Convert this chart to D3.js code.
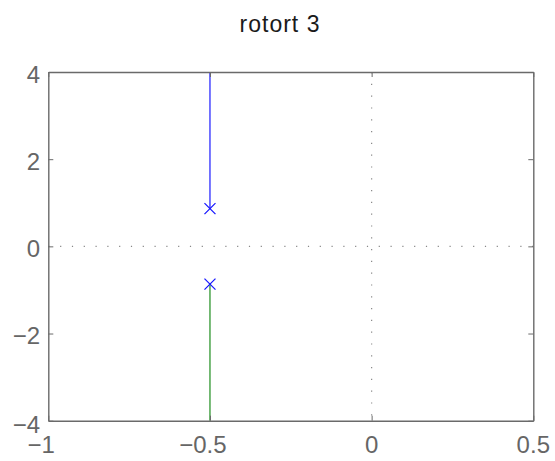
<!DOCTYPE html>
<html>
<head>
<meta charset="utf-8">
<script src="https://cdn.jsdelivr.net/npm/d3@7"></script>
<style>
  html, body { margin: 0; padding: 0; background: #fff; }
  svg { display: block; font-family: "Liberation Sans", Arial, Helvetica, sans-serif; }
</style>
</head>
<body>
<svg id="chart" width="555" height="461"></svg>
<script>
// Root locus of a second-order system: open-loop poles and the two branches
const chartTitle = "rotort 3";
const xTicks = [-1, -0.5, 0, 0.5];
const yTicks = [-4, -2, 0, 2, 4];
const poleRe = [-0.5, -0.5];
const poleIm = [0.866, -0.866];
// branch points (real, imag), traced from each pole towards large gain
const branchUpper = [[-0.5, 0.866], [-0.5, 1.5], [-0.5, 2.5], [-0.5, 3.5], [-0.5, 4.5]];
const branchLower = [[-0.5, -0.866], [-0.5, -1.5], [-0.5, -2.5], [-0.5, -3.5], [-0.5, -4.5]];

const svg = d3.select("#chart");
const pLeft = 48.3, pRight = 533.3, pTop = 72, pBottom = 420.7;
const x = d3.scaleLinear().domain([-1, 0.5]).range([pLeft, pRight]);
const y = d3.scaleLinear().domain([-4, 4]).range([pBottom, pTop]);
const axisCol = "#6a6a6a";

// title
svg.append("text")
  .attr("x", 280).attr("y", 32)
  .attr("text-anchor", "middle")
  .attr("font-size", 23).attr("letter-spacing", 1)
  .attr("fill", "#1a1a1a")
  .text(chartTitle);

svg.append("clipPath").attr("id", "plotClip")
  .append("rect").attr("x", pLeft).attr("y", pTop)
  .attr("width", pRight - pLeft).attr("height", pBottom - pTop);

const plot = svg.append("g").attr("clip-path", "url(#plotClip)");

// dotted zero lines
plot.append("line")
  .attr("x1", pLeft).attr("x2", pRight)
  .attr("y1", y(0)).attr("y2", y(0))
  .attr("stroke", "#888").attr("stroke-width", 1.2)
  .attr("stroke-dasharray", "1.2,10.6");
plot.append("line")
  .attr("x1", x(0)).attr("x2", x(0))
  .attr("y1", pTop).attr("y2", pBottom)
  .attr("stroke", "#888").attr("stroke-width", 1.2)
  .attr("stroke-dasharray", "1.2,10.6");

// locus branches
const line = d3.line().x(d => x(d[0])).y(d => y(d[1]));
plot.append("path").datum(branchUpper)
  .attr("d", line).attr("fill", "none")
  .attr("stroke", "#2b2bff").attr("stroke-width", 1.3);
plot.append("path").datum(branchLower)
  .attr("d", line).attr("fill", "none")
  .attr("stroke", "#2e962e").attr("stroke-width", 1.3);

// pole markers
const m = 5.5;
poleRe.forEach((re, i) => {
  const cx = x(re), cy = y(poleIm[i]);
  plot.append("path")
    .attr("d", `M${cx - m},${cy - m}L${cx + m},${cy + m}M${cx - m},${cy + m}L${cx + m},${cy - m}`)
    .attr("stroke", "#1a1aff").attr("stroke-width", 1.3).attr("fill", "none");
});

// axes box with inward ticks on all four sides
const axes = svg.append("g");
const tickLen = 5;
const xAxisBottom = d3.axisBottom(x).tickValues(xTicks).tickSizeInner(-tickLen).tickSizeOuter(0).tickFormat("");
const xAxisTop = d3.axisTop(x).tickValues(xTicks).tickSizeInner(-tickLen).tickSizeOuter(0).tickFormat("");
const yAxisLeft = d3.axisLeft(y).tickValues(yTicks).tickSizeInner(-tickLen).tickSizeOuter(0).tickFormat("");
const yAxisRight = d3.axisRight(y).tickValues(yTicks).tickSizeInner(-tickLen).tickSizeOuter(0).tickFormat("");
axes.append("g").attr("transform", `translate(0,${pBottom})`).call(xAxisBottom);
axes.append("g").attr("transform", `translate(0,${pTop})`).call(xAxisTop);
axes.append("g").attr("transform", `translate(${pLeft},0)`).call(yAxisLeft);
axes.append("g").attr("transform", `translate(${pRight},0)`).call(yAxisRight);
axes.selectAll(".domain").attr("stroke", axisCol).attr("stroke-width", 1.4);
axes.selectAll(".tick line").attr("stroke", axisCol).attr("stroke-width", 1);

const fmt = v => (v < 0 ? "\u2212" : "") + String(Math.abs(v));

// x tick labels: digits centred on the tick, minus sign hanging to the left
const labels = svg.append("g").attr("fill", "#666").attr("font-size", 24);
xTicks.forEach(v => {
  const t = labels.append("text").attr("y", 453).text(String(Math.abs(v)));
  const w = t.node().getComputedTextLength();
  t.attr("x", x(v) - w / 2);
  if (v < 0) {
    t.text(fmt(v));
    const wFull = t.node().getComputedTextLength();
    t.attr("x", x(v) - w / 2 - (wFull - w));
  }
});

// y tick labels
yTicks.forEach(v => {
  labels.append("text")
    .attr("x", 40)
    .attr("y", y(v) + 10.5 + (v === yTicks[0] ? 1.5 : 0))
    .attr("text-anchor", "end")
    .text(fmt(v));
});
</script>
</body>
</html>
